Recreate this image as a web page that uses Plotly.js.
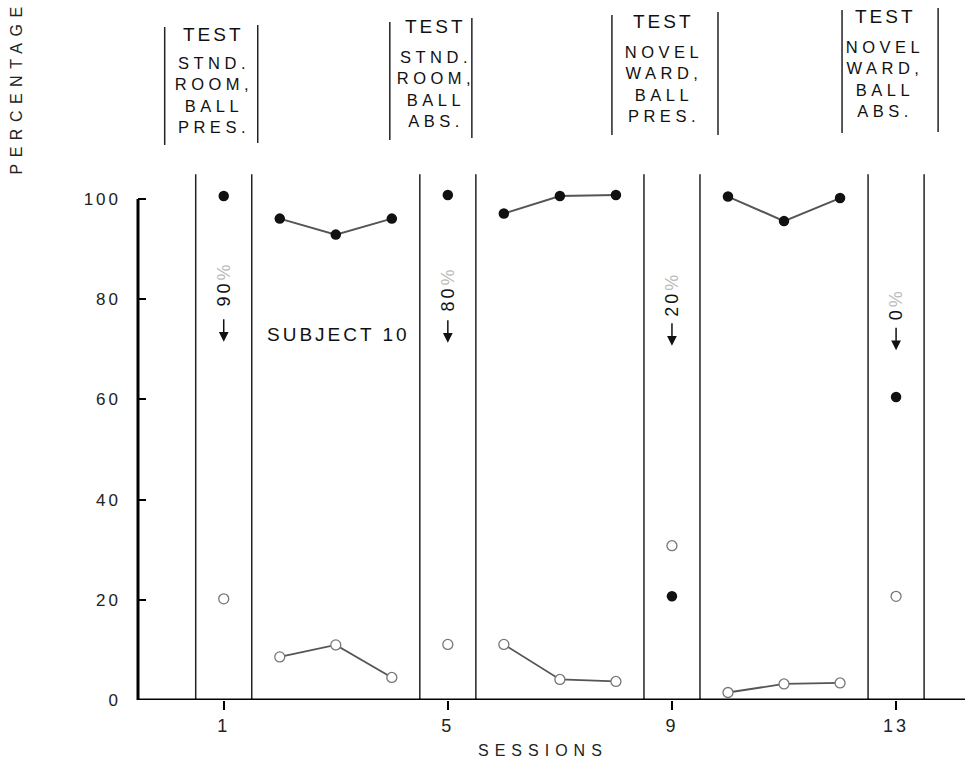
<!DOCTYPE html>
<html>
<head>
<meta charset="utf-8">
<script src="https://cdn.plot.ly/plotly-3.0.1.min.js"></script>
<style>
html,body{margin:0;padding:0;background:#fff;}
#chart{width:965px;height:773px;}
#chart text{letter-spacing:3px;}
</style>
</head>
<body>
<div id="chart"></div>
<script>
// ---- data ----
const sessions   = [1, 2, 3, 4, 5, 6, 7, 8, 9, 10, 11, 12, 13];
const filledPct  = [100.6, 96.1, 92.9, 96.1, 100.8, 97.1, 100.6, 100.8, 20.7, 100.5, 95.6, 100.2, 60.5];
const openPct    = [20.2, 8.6, 11.0, 4.5, 11.1, 11.1, 4.1, 3.7, 30.8, 1.5, 3.2, 3.4, 20.7];
// sessions joined by a line (training runs) or standing alone (tests)
const blocks     = [[1], [2, 3, 4], [5], [6, 7, 8], [9], [10, 11, 12], [13]];
const testSessions = [1, 5, 9, 13];
const testArrowLabels = ["90", "80", "20", "0"];
const testHeaders = [
  ["STND.", "ROOM,", "BALL", "PRES."],
  ["STND.", "ROOM,", "BALL", "ABS."],
  ["NOVEL", "WARD,", "BALL", "PRES."],
  ["NOVEL", "WARD,", "BALL", "ABS."]
];
const xTickVals = [1, 5, 9, 13];
const xTickText = ["1", "5", "9", "13"];
const yTickVals = [0, 20, 40, 60, 80, 100];
const yTickText = ["0", "20", "40", "60", "80", "100"];
const subjectLabel = "SUBJECT 10";

// ---- layout geometry (pixels of the 965x773 page) ----
const M = {l: 138, r: 0, t: 169, b: 73};
const plotH = 773 - M.t - M.b;
const paperY = py => (773 - M.b - py) / plotH;
const pxToX = px => (px - 224) / 56 + 1;
const FONT = "Liberation Sans, Arial, Helvetica, sans-serif";

function withGaps(values) {
  const xs = [], ys = [];
  blocks.forEach((b, i) => {
    if (i) { xs.push(null); ys.push(null); }
    b.forEach(s => { xs.push(s); ys.push(values[sessions.indexOf(s)]); });
  });
  return {xs, ys};
}
const openS = withGaps(openPct);
const fillS = withGaps(filledPct);

const traces = [
  {
    x: openS.xs, y: openS.ys, type: "scatter", mode: "lines+markers",
    connectgaps: false, showlegend: false, hoverinfo: "x+y",
    line: {color: "#555", width: 1.8},
    marker: {symbol: "circle", size: 10, color: "#fff", line: {color: "#777", width: 1.3}}
  },
  {
    x: fillS.xs, y: fillS.ys, type: "scatter", mode: "lines+markers",
    connectgaps: false, showlegend: false, hoverinfo: "x+y",
    line: {color: "#555", width: 2},
    marker: {symbol: "circle", size: 10.5, color: "#111"}
  }
];

// column separators around each test session
const shapes = [];
testSessions.forEach(s => {
  [s - 0.5, s + 0.5].forEach(xv => shapes.push({
    type: "line", xref: "x", yref: "paper", x0: xv, x1: xv, y0: 0, y1: 0.99,
    line: {color: "#222", width: 1.5}
  }));
});
// axis lines
shapes.push({type: "line", xref: "paper", yref: "y", x0: 0, x1: 0, y0: 0, y1: 100, line: {color: "#000", width: 3}});
shapes.push({type: "line", xref: "paper", yref: "y", x0: 0, x1: 1, y0: 0, y1: 0, line: {color: "#000", width: 3}});

// header boxes (pixel geometry of the reference)
const headerLinesPx = [
  [[165, 27, 145], [258, 25, 143]],
  [[390, 22, 140], [472, 18, 138]],
  [[612, 15, 135], [718, 12, 135]],
  [[842, 10, 133], [938, 8, 132]]
];
headerLinesPx.forEach(pair => pair.forEach(([px, ya, yb]) => shapes.push({
  type: "line", xref: "x", yref: "paper", x0: pxToX(px), x1: pxToX(px),
  y0: paperY(yb), y1: paperY(ya), line: {color: "#222", width: 1.5}
})));

const annotations = [];
const spacingCss = [];
function addAnn(a, ls) {
  if (ls !== undefined) spacingCss.push('#chart .annotation[data-index="' + annotations.length + '"] text{letter-spacing:' + ls + 'px;}');
  annotations.push(a);
}

// axis titles
addAnn({text: "SESSIONS", xref: "paper", yref: "paper", x: (543 - M.l) / (965 - M.l), y: paperY(751),
  showarrow: false, font: {family: FONT, size: 16, color: "#222"}, xanchor: "center", yanchor: "middle"}, 6);
addAnn({text: "PERCENTAGE", xref: "paper", yref: "paper", x: (17 - M.l) / (965 - M.l), y: paperY(88),
  textangle: -90, showarrow: false, font: {family: FONT, size: 16, color: "#222"}, xanchor: "center", yanchor: "middle"}, 6.5);

// header texts
const headerCenterPx = [214, 436, 664, 885];
const testYpx = [32.5, 25, 20, 15];
const bodyYpx = [93.3, 87, 82, 77.5];
testHeaders.forEach((lines, i) => {
  addAnn({text: "TEST", xref: "x", yref: "paper", x: pxToX(headerCenterPx[i]), y: paperY(testYpx[i] + 1.5),
    showarrow: false, font: {family: FONT, size: 19, color: "#111"}, xanchor: "center", yanchor: "middle"});
  addAnn({text: lines.join("<br>"), xref: "x", yref: "paper", x: pxToX(headerCenterPx[i]), y: paperY(bodyYpx[i] + 2),
    showarrow: false, align: "center", font: {family: FONT, size: 16.5, color: "#111"}, xanchor: "center", yanchor: "middle"}, 4.5);
});

// rotated labels and arrows in each test column
const labelY = [83, 82, 81, 79];
const arrowTipY = [71.5, 71.3, 70.7, 69.8];
testSessions.forEach((s, i) => {
  addAnn({
    text: testArrowLabels[i] + '<span style="fill:#bbb">%</span>',
    xref: "x", yref: "y", x: s, y: labelY[i], textangle: -90, showarrow: false,
    font: {family: FONT, size: 18, color: "#111"}, xanchor: "center", yanchor: "middle"
  });
  addAnn({
    text: "", xref: "x", yref: "y", x: s, y: arrowTipY[i], showarrow: true,
    ax: 0, ay: -24, arrowhead: 2, arrowsize: 1.3, arrowwidth: 1.5, arrowcolor: "#111"
  });
});

addAnn({text: subjectLabel, xref: "x", yref: "y", x: 3.05, y: 73, showarrow: false,
  font: {family: FONT, size: 19, color: "#111"}, xanchor: "center", yanchor: "middle"});

const styleEl = document.createElement("style");
styleEl.textContent = spacingCss.join("\n");
document.head.appendChild(styleEl);

const layout = {
  width: 965, height: 773,
  margin: M,
  paper_bgcolor: "#fff", plot_bgcolor: "#fff",
  showlegend: false,
  xaxis: {
    range: [-0.53, 14.23], tickvals: xTickVals, ticktext: xTickText,
    ticks: "outside", ticklen: 9, tickwidth: 2, tickcolor: "#000",
    showgrid: false, zeroline: false, showline: false,
    tickfont: {family: FONT, size: 18, color: "#222"}, ticklabelstandoff: 0
  },
  yaxis: {
    range: [0, 106], tickvals: yTickVals, ticktext: yTickText,
    ticks: "inside", ticklen: 8, tickwidth: 2, tickcolor: "#000",
    showgrid: false, zeroline: false, showline: false,
    tickfont: {family: FONT, size: 17, color: "#222"}, ticklabelstandoff: 16
  },
  shapes: shapes,
  annotations: annotations
};

Plotly.newPlot("chart", traces, layout, {displayModeBar: false, staticPlot: true});
</script>
</body>
</html>
